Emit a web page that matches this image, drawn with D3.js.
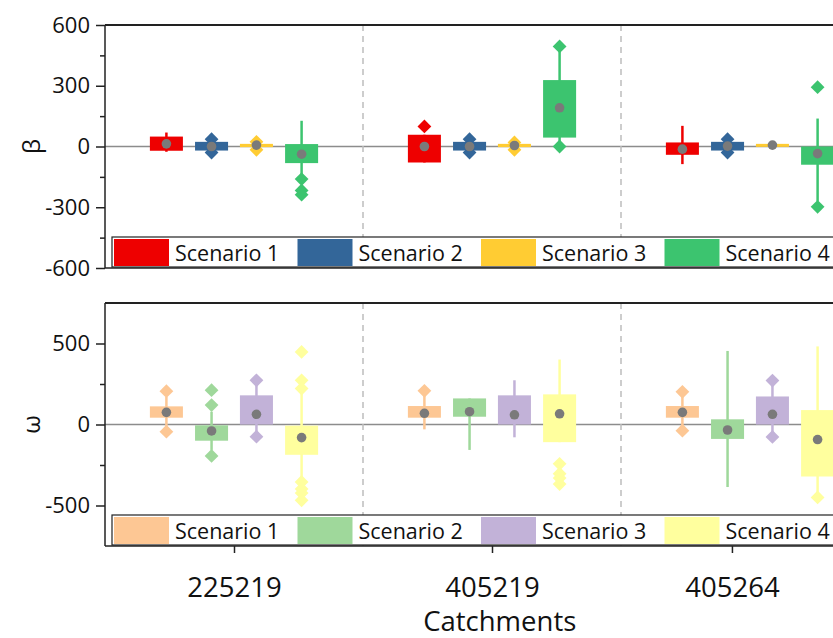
<!DOCTYPE html>
<html lang="en">

<head>
    <meta charset="UTF-8">
    <title>Box plots of beta and omega by catchment</title>
    <script src="https://d3js.org/d3.v7.min.js"></script>
    <style>
        body {
            margin: 0;
            background: #fff;
        }

        svg {
            display: block;
            font-family: "Open Sans", "Noto Sans", sans-serif;
        }

        .axis path,
        .axis line {
            stroke: #222;
            stroke-width: 1.5px;
        }

        .axis text {
            fill: #111;
        }
    </style>
</head>

<body>
    <svg></svg>
    <script>
        const width = 833;
        const height = 638;

        // catchments on the x axis and where their tick labels sit
        const catchments = ["225219", "405219", "405264"];
        const tickPos = [1, 2, 2.93];
        const groupPos = [1, 2, 3];
        const scenarios = ["Scenario 1", "Scenario 2", "Scenario 3", "Scenario 4"];
        const scenOffset = [-0.262, -0.087, 0.087, 0.262];

        const betaColors = ["#ee0000", "#336699", "#ffcc33", "#3cc46f"];
        const omegaColors = ["#fdc794", "#9fd89b", "#c2b2d8", "#ffff9e"];

        // beta: one row per catchment, one entry per scenario
        const betaLow = [[-26, -20, -3, -150], [-79, -20, -3, 10], [-87, -20, -1, -271]];
        const betaQ1 = [[-21, -20, -3, -82], [-79, -20, -3, 44], [-41, -20, -1, -90]];
        const betaQ3 = [[49, 23, 13, 12], [58, 23, 13, 328], [20, 23, 13, 0]];
        const betaHigh = [[69, 23, 13, 127], [58, 23, 13, 480], [102, 23, 13, 138]];
        const betaMean = [[13, 0, 7, -38], [0, 0, 5, 191], [-13, 2, 7, -35]];
        const betaOut = [
            [[], [36, -30], [23, -16], [-161, -217, -238]],
            [[99], [36, -30], [20, -16], [494, 0]],
            [[], [36, -30], [], [293, -298]]
        ];

        // omega
        const omegaLow = [[-20, -157, -60, -341], [-30, -157, -79, -109], [-20, -386, -60, -430]];
        const omegaQ1 = [[42, -100, 0, -187], [42, 48, 0, -109], [42, -89, 0, -321]];
        const omegaQ3 = [[112, -5, 180, -7], [114, 161, 180, 186], [114, 32, 173, 89]];
        const omegaHigh = [[171, 79, 250, 192], [180, 161, 273, 401], [180, 454, 250, 482]];
        const omegaMean = [[75, -40, 63, -81], [69, 79, 60, 66], [75, -34, 63, -93]];
        const omegaOut = [
            [[206, -44], [212, 120, -194], [273, -75], [448, 273, 222, -355, -398, -423, -468]],
            [[208], [], [], [-243, -304, -331, -368]],
            [[202, -38], [], [271, -77], [-450]]
        ];

        const betaTicks = [-600, -300, 0, 300, 600];
        const betaMinor = [-450, -150, 150, 450];
        const omegaTicks = [-500, 0, 500];
        const omegaMinor = [-250, 250];

        const svg = d3.select("svg")
            .attr("width", width)
            .attr("height", height);

        const x = d3.scaleLinear().domain([0.5, 3.5]).range([105, 879]);
        const boxW = x(0.628) - x(0.5);

        function panel(opt) {
            const y = d3.scaleLinear().domain(opt.domain).range([opt.bottom, opt.top]);
            const g = svg.append("g");

            // zero line and group separators
            g.append("line")
                .attr("x1", x(0.5)).attr("x2", width)
                .attr("y1", y(0)).attr("y2", y(0))
                .attr("stroke", "#8c8c8c").attr("stroke-width", 1.5);

            g.selectAll(".sep")
                .data([1.5, 2.5])
                .enter().append("line")
                .attr("x1", d => x(d)).attr("x2", d => x(d))
                .attr("y1", opt.top).attr("y2", opt.bottom)
                .attr("stroke", "#bdbdbd").attr("stroke-width", 1.5)
                .attr("stroke-dasharray", "6,5");

            const boxes = [];
            catchments.forEach((c, i) => {
                scenarios.forEach((s, j) => {
                    boxes.push({
                        cx: groupPos[i] + scenOffset[j],
                        color: opt.colors[j],
                        low: opt.low[i][j], q1: opt.q1[i][j], q3: opt.q3[i][j],
                        high: opt.high[i][j], mean: opt.mean[i][j], out: opt.out[i][j]
                    });
                });
            });

            g.selectAll(".whisker")
                .data(boxes)
                .enter().append("line")
                .attr("x1", d => x(d.cx)).attr("x2", d => x(d.cx))
                .attr("y1", d => y(d.low)).attr("y2", d => y(d.high))
                .attr("stroke", d => d.color).attr("stroke-width", 2.5);

            g.selectAll(".box")
                .data(boxes)
                .enter().append("rect")
                .attr("x", d => x(d.cx) - boxW / 2)
                .attr("width", boxW)
                .attr("y", d => y(d.q3))
                .attr("height", d => Math.max(3, y(d.q1) - y(d.q3)))
                .attr("fill", d => d.color);

            const diamond = d3.symbol(d3.symbolSquare, 95);
            boxes.forEach(b => {
                g.selectAll(null)
                    .data(b.out)
                    .enter().append("path")
                    .attr("d", diamond)
                    .attr("transform", v => `translate(${x(b.cx)},${y(v)}) rotate(45)`)
                    .attr("fill", b.color);
            });

            g.selectAll(".mean")
                .data(boxes)
                .enter().append("circle")
                .attr("cx", d => x(d.cx))
                .attr("cy", d => y(d.mean))
                .attr("r", 4.8)
                .attr("fill", "#7a7a7a");

            // frame
            g.append("line")
                .attr("x1", x(0.5)).attr("x2", width)
                .attr("y1", opt.top).attr("y2", opt.top)
                .attr("stroke", "#222").attr("stroke-width", 2);
            g.append("line")
                .attr("x1", x(0.5)).attr("x2", width)
                .attr("y1", opt.bottom).attr("y2", opt.bottom)
                .attr("stroke", "#222").attr("stroke-width", 1.5);

            const ax = g.append("g")
                .attr("class", "axis")
                .attr("transform", `translate(${x(0.5)},0)`)
                .call(d3.axisLeft(y).tickValues(opt.ticks).tickFormat(d => String(d))
                    .tickSize(9).tickPadding(6).tickSizeOuter(0));
            ax.attr("font-family", null);
            ax.selectAll("text").attr("font-size", 22);
            ax.select(".domain").attr("d", `M0,${opt.top}V${opt.bottom}`);

            g.append("g")
                .attr("class", "axis")
                .attr("transform", `translate(${x(0.5)},0)`)
                .call(d3.axisLeft(y).tickValues(opt.minor).tickSize(5).tickFormat(""))
                .select(".domain").remove();

            g.append("text")
                .attr("transform", `translate(40,${y(0)}) rotate(-90)`)
                .attr("text-anchor", "middle")
                .attr("font-size", 24)
                .attr("fill", "#111")
                .text(opt.label);

            // legend
            const lg = g.append("g");
            lg.append("rect")
                .attr("x", 112).attr("y", opt.bottom - 31)
                .attr("width", width).attr("height", 30)
                .attr("fill", "#fff").attr("stroke", "#222").attr("stroke-width", 1.2);
            const item = lg.selectAll(".item")
                .data(scenarios)
                .enter().append("g")
                .attr("transform", (d, i) => `translate(${114 + i * 183.5},${opt.bottom - 29})`);
            item.append("rect")
                .attr("width", 55).attr("height", 27)
                .attr("fill", (d, i) => opt.colors[i]);
            item.append("text")
                .attr("x", 61).attr("y", 22)
                .attr("font-size", 21.5)
                .attr("fill", "#111")
                .text(d => d);

            return y;
        }

        panel({
            domain: [-600, 600], top: 25, bottom: 268,
            ticks: betaTicks, minor: betaMinor, label: "β", colors: betaColors,
            low: betaLow, q1: betaQ1, q3: betaQ3, high: betaHigh, mean: betaMean, out: betaOut
        });

        panel({
            domain: [-750, 750], top: 303, bottom: 546,
            ticks: omegaTicks, minor: omegaMinor, label: "ω", colors: omegaColors,
            low: omegaLow, q1: omegaQ1, q3: omegaQ3, high: omegaHigh, mean: omegaMean, out: omegaOut
        });

        // x axis of the lower panel
        const xa = svg.append("g")
            .attr("class", "axis")
            .attr("transform", "translate(0,546)")
            .call(d3.axisBottom(x).tickValues(tickPos).tickFormat((d, i) => catchments[i])
                .tickSize(7).tickPadding(24).tickSizeOuter(0));
        xa.attr("font-family", null);
        xa.select(".domain").remove();
        xa.selectAll("text").attr("font-size", 27.5);

        svg.append("text")
            .attr("x", x(2.03))
            .attr("y", 631)
            .attr("text-anchor", "middle")
            .attr("font-size", 27.5)
            .attr("fill", "#111")
            .text("Catchments");
    </script>
</body>

</html>
